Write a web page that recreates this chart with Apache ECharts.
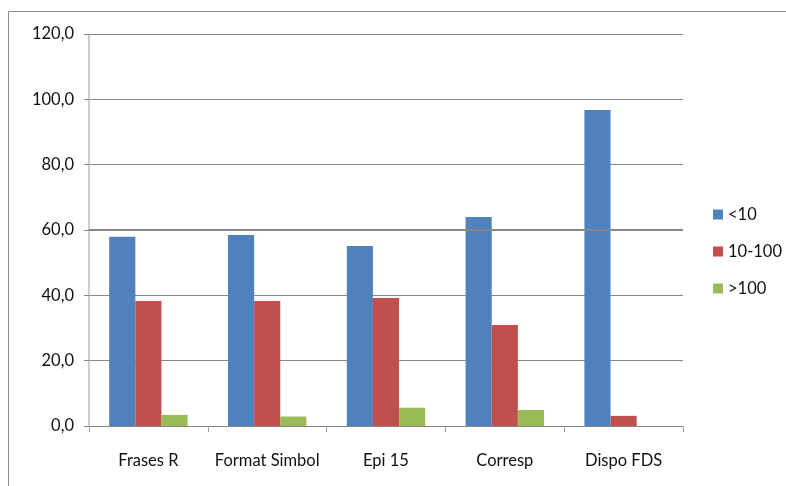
<!DOCTYPE html>
<html>
<head>
<meta charset="utf-8">
<script src="https://cdn.jsdelivr.net/npm/echarts@6/dist/echarts.min.js"></script>
<style>
  html, body { margin: 0; padding: 0; background: #fff; }
  #chart { width: 786px; height: 486px; }
</style>
</head>
<body>
<div id="chart"></div>
<script>
// Share of substances per category, split by tonnage band
const categories = ['Frases R', 'Format Simbol', 'Epi 15', 'Corresp', 'Dispo FDS'];
const seriesNames = ['<10', '10-100', '>100'];
const below10 = [57.9, 58.5, 55.1, 64.0, 96.7];
const from10to100 = [38.3, 38.3, 39.2, 30.9, 3.1];
const above100 = [3.4, 2.9, 5.6, 4.9, 0];
const yTicks = { min: 0, max: 120, interval: 20 };

const colors = ['#4F81BD', '#C0504D', '#9BBB59'];
const font = 'Lato, "Open Sans", "Noto Sans", sans-serif';

const chart = echarts.init(document.getElementById('chart'), null, { renderer: 'canvas' });

chart.setOption({
  animation: false,
  backgroundColor: '#fff',
  graphic: [{
    type: 'rect',
    shape: { x: 8.5, y: 11.5, width: 800, height: 500 },
    style: { fill: 'none', stroke: '#8c8c8c', lineWidth: 1 },
    silent: true
  }],
  grid: { left: 89, top: 34, width: 594, height: 392, containLabel: false },
  legend: {
    orient: 'vertical',
    left: 713,
    top: 206,
    padding: 0,
    itemWidth: 10,
    itemHeight: 10,
    itemGap: 20,
    icon: 'rect',
    textStyle: { fontFamily: font, fontSize: 16.5, lineHeight: 17, color: '#111' },
    data: seriesNames
  },
  xAxis: {
    type: 'category',
    data: categories,
    axisLine: { show: true, lineStyle: { color: '#868686', width: 1 } },
    axisTick: { show: true, length: 6, lineStyle: { color: '#a0a0a0' } },
    axisLabel: { fontFamily: font, fontSize: 16.5, color: '#111', margin: 26, interval: 0 }
  },
  yAxis: {
    type: 'value',
    min: yTicks.min,
    max: yTicks.max,
    interval: yTicks.interval,
    axisLine: { show: true, lineStyle: { color: '#bdbdbd', width: 1.5 } },
    axisTick: { show: true, length: 5, lineStyle: { color: '#868686' } },
    splitLine: { show: true, lineStyle: { color: '#868686', width: 1 } },
    axisLabel: {
      fontFamily: font, fontSize: 16.5, color: '#111', margin: 15,
      formatter: v => v.toFixed(1).replace('.', ',')
    }
  },
  series: [
    {
      name: seriesNames[0], type: 'bar', data: below10,
      itemStyle: { color: colors[0] }, barGap: '0%', barCategoryGap: '34%',
      markLine: {
        silent: true, symbol: 'none', label: { show: false },
        lineStyle: { color: '#868686', width: 2, type: 'solid' },
        data: [{ yAxis: 60 }]
      },
      z: 2
    },
    { name: seriesNames[1], type: 'bar', data: from10to100, itemStyle: { color: colors[1] }, barGap: '0%', barCategoryGap: '34%' },
    { name: seriesNames[2], type: 'bar', data: above100, itemStyle: { color: colors[2] }, barGap: '0%', barCategoryGap: '34%' }
  ]
});
</script>
</body>
</html>
